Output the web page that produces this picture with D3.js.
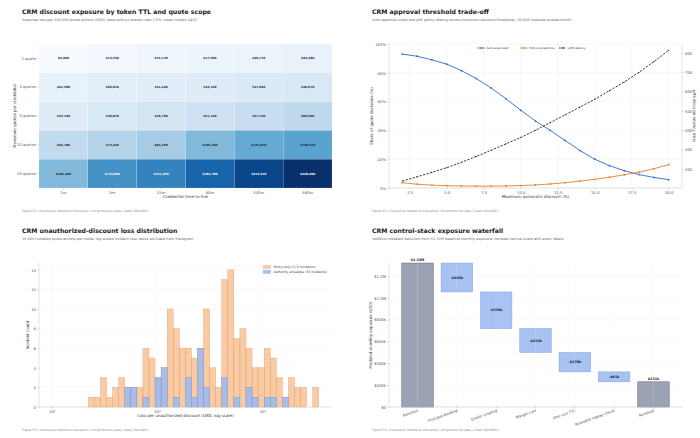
<!DOCTYPE html>
<html><head><meta charset="utf-8">
<script src="https://cdn.jsdelivr.net/npm/d3@7"></script>
<style>body{margin:0;background:#fff}svg text{font-family:"DejaVu Sans",sans-serif}</style>
</head><body><svg id="c" width="700" height="438"></svg>
<script>
// ---------- Panel 1 data: heatmap ----------
const ttlLabels = ["1m","5m","15m","60m","240m","480m"];
const scopeLabels = ["1 quote","3 quotes","5 quotes","10 quotes","25 quotes"];
const lossScope1  = [6900, 13530, 15740, 17960, 20170, 22380];
const lossScope3  = [24590, 29010, 31220, 33430, 37850, 40070];
const lossScope5  = [33430, 40070, 46700, 51120, 57750, 66600];
const lossScope10 = [62180, 73230, 84290, 106400, 121870, 128510];
const lossScope25 = [106400, 143980, 157250, 183780, 210310, 228000];

// ---------- Panel 2 data: threshold trade-off ----------
const discountThresholds = [2,3,4,5,6,7,8,9,10,11,12,13,14,15,16,17,18,19,20];
const autoApprovedPct = [93,91.5,89,86,81.5,76,69.5,62,54,46.5,40,33,26,20,15.5,12,9.3,7.3,5.8];
const policyExceptionPct = [3.7,2.6,2.0,1.6,1.4,1.3,1.3,1.4,1.7,2.1,2.8,3.7,4.8,6.0,7.5,9.2,11.0,13.4,16.2];
const p95LatencyMs = [138,160,183,207,235,265,297,330,363,400,440,480,520,560,605,650,700,755,813];
const pctTicks = [0,20,40,60,80,100];
const latencyTicks = [200,300,400,500,600,700,800];
const discountTicks = [2.5,5,7.5,10,12.5,15,17.5,20];

// ---------- Panel 3 data: histogram ----------
const binLogMin = 2.348, binLogMax = 4.536;
const policyOnlyCounts = [1,1,3,1,2,3,2,2,2,6,5,3,4,10,8,6,6,5,6,10,4,2,13,14,7,8,6,4,4,6,5,3,1,3,2,2,0,2];
const envelopeCounts   = [0,0,0,0,0,0,2,2,0,1,0,3,4,0,1,0,3,1,6,2,0,0,3,0,1,0,2,1,0,1,1,0,1,0,0,0,0,0];
const countTicks = [0,2,4,6,8,10,12,14];
const lossDecades = [2,3,4];

// ---------- Panel 4 data: waterfall ----------
const wfCategories = ["Baseline","Principal binding","Quote scoping","Margin rule","One-use TTL","Bounded replay check","Residual"];
const wfBaselineK = 1320;
const wfReductionsK = [-265,-336,-219,-178,-91];
const wfTicksK = [0,200,400,600,800,1000,1200];
const wfTickLabels = ["$0","$200k","$400k","$600k","$800k","$1.0M","$1.2M"];

// ---------- layout ----------
const svg = d3.select("#c");
const PX0 = 39, PX1 = 332, PY0 = 44, PY1 = 188;
const TICK = "#555", FS_T = 3.8;

function panel(ox, oy, title, subtitle, footer) {
  const g = svg.append("g").attr("transform", `translate(${ox},${oy})`);
  g.append("text").attr("x",22).attr("y",14).attr("font-size",6.2).attr("font-weight","bold").attr("fill","#1a1a1a").text(title);
  g.append("text").attr("x",22).attr("y",20.8).attr("font-size",3.5).attr("fill","#6b6b6b").text(subtitle);
  g.append("text").attr("x",22).attr("y",211.5).attr("font-size",3.1).attr("fill","#8a8a8a").text(footer);
  return g;
}
function rotLabel(g, x, y, txt) {
  g.append("text").attr("transform",`translate(${x},${y}) rotate(-90)`).attr("text-anchor","middle")
   .attr("font-size",4.0).attr("fill","#333").text(txt);
}
function xLabel(g, x, y, txt) {
  g.append("text").attr("x",x).attr("y",y).attr("text-anchor","middle").attr("font-size",4.0).attr("fill","#333").text(txt);
}
function styleAxis(sel) {
  sel.selectAll("path").remove();
  sel.selectAll("line").attr("stroke","#999").attr("stroke-width",0.4);
  sel.selectAll("text").attr("font-size",FS_T).attr("fill",TICK).attr("font-family","DejaVu Sans");
}

// ================= Panel 1 =================
{
  const g = panel(0,0,"CRM discount exposure by token TTL and quote scope",
    "Expected loss per 100,000 quote actions (USD); base policy-violation rate 1.0%, mean impact $420",
    "Figure E1  |  Illustrative reference simulation, not production data  |  Seed 20240915");
  const rows = [lossScope1, lossScope3, lossScope5, lossScope10, lossScope25];
  const x = d3.scaleBand().domain(ttlLabels).range([PX0,PX1]);
  const y = d3.scaleBand().domain(scopeLabels).range([PY0,PY1]);
  const all = rows.flat();
  const cs = d3.scaleLinear().domain([d3.min(all), d3.max(all)]).range([0,1]);
  rows.forEach((r,ri) => r.forEach((v,ci) => {
    const t = cs(v);
    g.append("rect").attr("x",x(ttlLabels[ci])).attr("y",y(scopeLabels[ri]))
      .attr("width",x.bandwidth()).attr("height",y.bandwidth()).attr("fill",d3.interpolateBlues(t))
      .attr("stroke","#fff").attr("stroke-width",0.15);
    g.append("text").attr("x",x(ttlLabels[ci])+x.bandwidth()/2).attr("y",y(scopeLabels[ri])+y.bandwidth()/2+1)
      .attr("text-anchor","middle").attr("font-size",2.9).attr("font-weight","bold")
      .attr("fill", t>0.58 ? "#fff" : "#1a1a1a").text("$"+d3.format(",")(v));
  }));
  const ax = g.append("g").attr("transform",`translate(0,${PY1})`).call(d3.axisBottom(x).tickSize(1.5).tickPadding(1.5));
  styleAxis(ax);
  const ay = g.append("g").attr("transform",`translate(${PX0},0)`).call(d3.axisLeft(y).tickSize(1.5).tickPadding(1.5));
  styleAxis(ay);
  xLabel(g, (PX0+PX1)/2, 198, "Credential time-to-live");
  rotLabel(g, 16, (PY0+PY1)/2, "Maximum quotes per credential");
}

// ================= Panel 2 =================
{
  const g = panel(350,0,"CRM approval threshold trade-off",
    "Auto-approval share and p95 policy latency across maximum discount thresholds; 50,000 modeled quotes/month",
    "Figure E2  |  Illustrative reference simulation, not production data  |  Seed 20240915");
  const x = d3.scaleLinear().domain([1.1,20.9]).range([PX0,PX1]);
  const y = d3.scaleLinear().domain([0,100]).range([PY1,PY0]);
  const y2 = d3.scaleLinear().domain([102,846]).range([PY1,PY0]);
  g.append("g").selectAll("line").data(discountTicks).join("line")
    .attr("x1",d=>x(d)).attr("x2",d=>x(d)).attr("y1",PY0).attr("y2",PY1).attr("stroke","#ececec").attr("stroke-width",0.4);
  g.append("g").selectAll("line").data(pctTicks).join("line")
    .attr("x1",PX0).attr("x2",PX1).attr("y1",d=>y(d)).attr("y2",d=>y(d)).attr("stroke","#ececec").attr("stroke-width",0.4);
  [[PX0,PY0,PX0,PY1],[PX0,PY1,PX1,PY1],[PX1,PY0,PX1,PY1]].forEach(s=>
    g.append("line").attr("x1",s[0]).attr("y1",s[1]).attr("x2",s[2]).attr("y2",s[3]).attr("stroke","#c8c8c8").attr("stroke-width",0.5));
  const ax = g.append("g").attr("transform",`translate(0,${PY1})`).call(d3.axisBottom(x).tickValues(discountTicks).tickFormat(d3.format(".1f")).tickSize(1.5).tickPadding(1.5));
  styleAxis(ax);
  const ay = g.append("g").attr("transform",`translate(${PX0},0)`).call(d3.axisLeft(y).tickValues(pctTicks).tickFormat(d=>d+"%").tickSize(1.5).tickPadding(1.5));
  styleAxis(ay);
  const ay2 = g.append("g").attr("transform",`translate(${PX1},0)`).call(d3.axisRight(y2).tickValues(latencyTicks).tickSize(1.5).tickPadding(1.5));
  styleAxis(ay2);
  const series = [
    {vals:autoApprovedPct, sc:y, color:"#2f6bcd", dash:null},
    {vals:policyExceptionPct, sc:y, color:"#e47f2e", dash:null},
    {vals:p95LatencyMs, sc:y2, color:"#222", dash:"2.2,1.4"}
  ];
  series.forEach(s => {
    const line = d3.line().x((d,i)=>x(discountThresholds[i])).y(d=>s.sc(d));
    g.append("path").datum(s.vals).attr("d",line).attr("fill","none").attr("stroke",s.color)
      .attr("stroke-width",0.9).attr("stroke-dasharray",s.dash);
    g.append("g").selectAll("circle").data(s.vals).join("circle")
      .attr("cx",(d,i)=>x(discountThresholds[i])).attr("cy",d=>s.sc(d)).attr("r",s.dash?0.55:0.9).attr("fill",s.color);
  });
  const leg = [["Auto-approved","#2f6bcd",null,127.5],["Policy exceptions","#e47f2e",null,170],["p95 latency","#222","2.2,1.4",209]];
  leg.forEach(l => {
    g.append("line").attr("x1",l[3]).attr("x2",l[3]+7.5).attr("y1",48).attr("y2",48).attr("stroke",l[1]).attr("stroke-width",0.9).attr("stroke-dasharray",l[2]);
    g.append("circle").attr("cx",l[3]+3.75).attr("cy",48).attr("r",0.8).attr("fill",l[1]);
    g.append("text").attr("x",l[3]+9.3).attr("y",49.1).attr("font-size",2.9).attr("fill","#333").text(l[0]);
  });
  xLabel(g, (PX0+PX1)/2, 198, "Maximum automatic discount (%)");
  rotLabel(g, 23, (PY0+PY1)/2, "Share of quote decisions (%)");
  g.append("text").attr("transform",`translate(343,${(PY0+PY1)/2}) rotate(90)`).attr("text-anchor","middle")
    .attr("font-size",4.0).attr("fill","#333").text("p95 decision latency (ms)");
}

// ================= Panel 3 =================
{
  const g = panel(0,219,"CRM unauthorized-discount loss distribution",
    "10,000 modeled quote actions per mode; log-scaled incident loss; zeros excluded from histogram",
    "Figure E3  |  Illustrative reference simulation, not production data  |  Seed 20240915");
  const x = d3.scaleLog().domain([Math.pow(10,1.879), Math.pow(10,4.662)]).range([PX0,PX1]);
  const y = d3.scaleLinear().domain([0,14.7]).range([PY1,PY0]);
  g.append("g").selectAll("line").data(countTicks).join("line")
    .attr("x1",PX0).attr("x2",PX1).attr("y1",d=>y(d)).attr("y2",d=>y(d)).attr("stroke","#efefef").attr("stroke-width",0.4);
  g.append("g").selectAll("line").data(lossDecades).join("line")
    .attr("x1",d=>x(Math.pow(10,d))).attr("x2",d=>x(Math.pow(10,d))).attr("y1",PY0).attr("y2",PY1).attr("stroke","#efefef").attr("stroke-width",0.4);
  const w = (binLogMax-binLogMin)/policyOnlyCounts.length;
  const edge = i => x(Math.pow(10, binLogMin + i*w));
  const bars = (counts, fill, op, stroke) => counts.forEach((d,i)=>{
    if (d<=0) return;
    g.append("rect").attr("x",edge(i)).attr("width",edge(i+1)-edge(i)).attr("y",y(d)).attr("height",y(0)-y(d))
      .attr("fill",fill).attr("fill-opacity",op).attr("stroke",stroke).attr("stroke-width",0.35);
  });
  bars(policyOnlyCounts, "#f4a868", 0.6, "#e59a62");
  bars(envelopeCounts, "#9db8f0", 0.88, "#6d8fdc");
  [[PX0,PY0,PX0,PY1],[PX0,PY1,PX1,PY1]].forEach(s=>
    g.append("line").attr("x1",s[0]).attr("y1",s[1]).attr("x2",s[2]).attr("y2",s[3]).attr("stroke","#c8c8c8").attr("stroke-width",0.5));
  const sup = {2:"²",3:"³",4:"⁴"};
  const ax = g.append("g").attr("transform",`translate(0,${PY1})`)
    .call(d3.axisBottom(x).tickValues(lossDecades.map(d=>Math.pow(10,d))).tickFormat(d=>"10"+sup[Math.round(Math.log10(d))]).tickSize(1.5).tickPadding(1.5));
  styleAxis(ax);
  const ay = g.append("g").attr("transform",`translate(${PX0},0)`).call(d3.axisLeft(y).tickValues(countTicks).tickSize(1.5).tickPadding(1.5));
  styleAxis(ay);
  xLabel(g, (PX0+PX1)/2, 198, "Loss per unauthorized discount (USD, log scale)");
  rotLabel(g, 29, (PY0+PY1)/2, "Incident count");
  const legs = [["Policy-only ("+d3.sum(policyOnlyCounts)+" incidents)","#f4a868",0.6,"#e59a62"],
                ["Authority envelope ("+d3.sum(envelopeCounts)+" incidents)","#9db8f0",0.88,"#6d8fdc"]];
  legs.forEach((l,i)=>{
    g.append("rect").attr("x",263.5).attr("y",46.5+i*5).attr("width",7).attr("height",2.8)
      .attr("fill",l[1]).attr("fill-opacity",l[2]).attr("stroke",l[3]).attr("stroke-width",0.35);
    g.append("text").attr("x",273.5).attr("y",49.2+i*5).attr("font-size",3.2).attr("fill","#333").text(l[0]);
  });
}

// ================= Panel 4 =================
{
  const g = panel(350,219,"CRM control-stack exposure waterfall",
    "Additive modeled reduction from $1.32M baseline monthly exposure; focused vertical scale with exact labels",
    "Figure E4  |  Illustrative reference simulation, not production data  |  Seed 20240915");
  const x = d3.scaleLinear().domain([-0.725, wfCategories.length-1+0.725]).range([PX0,PX1]);
  const y = d3.scaleLinear().domain([0,1325]).range([PY1,PY0-0.5]);
  const bw = (x(1)-x(0))*0.8;
  const steps = [];
  let run = wfBaselineK;
  steps.push({i:0, lo:0, hi:wfBaselineK, total:true, label:"$"+(wfBaselineK/1000).toFixed(2)+"M"});
  wfReductionsK.forEach((d,k)=>{
    const next = run + d;
    steps.push({i:k+1, lo:next, hi:run, total:false, label:"-$"+(-d)+"k"});
    run = next;
  });
  steps.push({i:wfCategories.length-1, lo:0, hi:run, total:true, label:"$"+run+"k"});
  g.append("g").selectAll("line").data(wfTicksK).join("line")
    .attr("x1",PX0).attr("x2",PX1).attr("y1",d=>y(d)).attr("y2",d=>y(d)).attr("stroke","#ececec").attr("stroke-width",0.4);
  steps.forEach(s=>{
    g.append("rect").attr("x",x(s.i)-bw/2).attr("width",bw).attr("y",y(s.hi)).attr("height",y(s.lo)-y(s.hi))
      .attr("fill", s.total ? "#9aa2b4" : "#a8c2f4").attr("stroke", s.total ? "#5a6070" : "#7e9fe0").attr("stroke-width",0.5);
  });
  g.append("g").selectAll("line").data(wfCategories.map((c,i)=>i)).join("line")
    .attr("x1",d=>x(d)).attr("x2",d=>x(d)).attr("y1",PY0).attr("y2",PY1).attr("stroke","#e6e8ee").attr("stroke-opacity",0.55).attr("stroke-width",0.4);
  steps.forEach(s=>{
    const ty = s.total ? y(s.hi)-2 : (y(s.hi)+y(s.lo))/2+1.2;
    g.append("text").attr("x",x(s.i)).attr("y",ty).attr("text-anchor","middle").attr("font-size",3.3)
      .attr("font-weight","bold").attr("fill","#1a1a1a").text(s.label);
  });
  [[PX0,PY0,PX0,PY1],[PX0,PY1,PX1,PY1]].forEach(s=>
    g.append("line").attr("x1",s[0]).attr("y1",s[1]).attr("x2",s[2]).attr("y2",s[3]).attr("stroke","#c8c8c8").attr("stroke-width",0.5));
  const ay = g.append("g").attr("transform",`translate(${PX0},0)`).call(d3.axisLeft(y).tickValues(wfTicksK).tickFormat((d,i)=>wfTickLabels[i]).tickSize(1.5).tickPadding(1.5));
  styleAxis(ay);
  wfCategories.forEach((c,i)=>{
    g.append("line").attr("x1",x(i)).attr("x2",x(i)).attr("y1",PY1).attr("y2",PY1+1.5).attr("stroke","#999").attr("stroke-width",0.4);
    g.append("text").attr("transform",`translate(${x(i)+1},${PY1+4.5}) rotate(-20)`).attr("text-anchor","end")
      .attr("font-size",FS_T).attr("fill",TICK).text(c);
  });
  rotLabel(g, 22, (PY0+PY1)/2, "Modeled monthly exposure (USD)");
}
</script></body></html>
